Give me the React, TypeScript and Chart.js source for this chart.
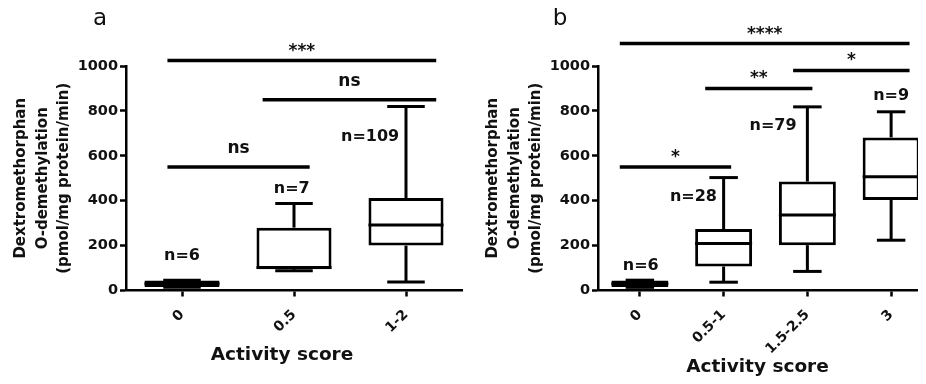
import React, { useEffect, useRef } from 'react';
import { Chart, registerables } from 'chart.js';

Chart.register(...registerables);

// ---------- Panel a data ----------
const categoriesA = ['0', '0.5', '1-2'];
const minA = [14, 88, 38];
const q1A = [16, 95, 200];
const medianA = [30, 103, 292];
const q3A = [44, 280, 412];
const maxA = [46, 388, 820];
const nA = [6, 7, 109];
const nXA = [0, 0.98, 1.68];
const nYA = [156, 454, 686];
const sigFromA = [-0.13, -0.13, 0.72];
const sigToA = [2.27, 1.14, 2.27];
const sigYA = [1024, 550, 850];
const sigTextA = ['***', 'ns', 'ns'];

// ---------- Panel b data ----------
const categoriesB = ['0', '0.5-1', '1.5-2.5', '3'];
const minB = [14, 37, 85, 224];
const q1B = [16, 107, 202, 403];
const medianB = [30, 209, 336, 507];
const q3B = [44, 274, 485, 682];
const maxB = [46, 503, 818, 796];
const nB = [6, 28, 79, 9];
const nXB = [0.01, 0.64, 1.59, 3.0];
const nYB = [111, 419, 732, 866];
const sigFromB = [-0.24, -0.24, 0.78, 1.83];
const sigToB = [3.22, 1.09, 2.06, 3.22];
const sigYB = [1100, 550, 900, 980];
const sigTextB = ['****', '*', '**', '*'];

const yMin = 0;
const yMax = 1000;
const yStep = 200;
const yTitle = ['Dextromethorphan', 'O-demethylation', '(pmol/mg protein/min)'];
const xTitle = 'Activity score';

const FONT = "'DejaVu Sans', sans-serif";

type Spec = {
  labels: string[];
  mins: number[];
  q1s: number[];
  medians: number[];
  q3s: number[];
  maxs: number[];
  ns: number[];
  nX: number[];
  nY: number[];
  sigFrom: number[];
  sigTo: number[];
  sigY: number[];
  sigText: string[];
  letter: string;
  letterPos: [number, number];
  titlePos: [number, number];
  width: number;
  padRight: number;
  barPct: number;
};

function makePlugin(spec: Spec) {
  return {
    id: 'boxExtras',
    afterDraw(chart: any) {
      const ctx: CanvasRenderingContext2D = chart.ctx;
      const xs = chart.scales.x;
      const ys = chart.scales.y;
      const meta = chart.getDatasetMeta(0);
      const line = (x1: number, y1: number, x2: number, y2: number) => {
        ctx.beginPath();
        ctx.moveTo(x1, y1);
        ctx.lineTo(x2, y2);
        ctx.stroke();
      };
      ctx.save();
      ctx.strokeStyle = '#000';
      ctx.lineCap = 'butt';
      ctx.lineWidth = 3;
      spec.labels.forEach((_, i) => {
        const cx = xs.getPixelForValue(i);
        const w = meta.data[i].width;
        const yMinP = ys.getPixelForValue(spec.mins[i]);
        const yQ1 = ys.getPixelForValue(spec.q1s[i]);
        const yMed = ys.getPixelForValue(spec.medians[i]);
        const yQ3 = ys.getPixelForValue(spec.q3s[i]);
        const yMaxP = ys.getPixelForValue(spec.maxs[i]);
        line(cx, yQ3, cx, yMaxP);
        line(cx, yQ1, cx, yMinP);
        line(cx - w / 4, yMaxP, cx + w / 4, yMaxP);
        line(cx - w / 4, yMinP, cx + w / 4, yMinP);
        line(cx - w / 2, yMed, cx + w / 2, yMed);
      });

      // significance bars
      ctx.lineWidth = 3.5;
      ctx.fillStyle = '#111';
      ctx.textAlign = 'center';
      ctx.textBaseline = 'alphabetic';
      spec.sigY.forEach((v, k) => {
        const x1 = xs.getPixelForValue(spec.sigFrom[k]);
        const x2 = xs.getPixelForValue(spec.sigTo[k]);
        const y = ys.getPixelForValue(v);
        line(x1, y, x2, y);
        const txt = spec.sigText[k];
        const isStar = txt.indexOf('*') >= 0;
        ctx.font = `bold 17px ${FONT}`;
        ctx.fillText(txt, (x1 + x2) / 2, y - (isStar ? 5 : 14));
      });

      // n labels
      ctx.font = `bold 16px ${FONT}`;
      ctx.textBaseline = 'middle';
      spec.ns.forEach((n, i) => {
        ctx.fillText('n=' + n, xs.getPixelForValue(spec.nX[i]), ys.getPixelForValue(spec.nY[i]));
      });

      // x axis title
      ctx.font = `bold 18.5px ${FONT}`;
      ctx.fillText(xTitle, spec.titlePos[0], spec.titlePos[1]);

      // panel letter
      ctx.font = `23px ${FONT}`;
      ctx.fillText(spec.letter, spec.letterPos[0], spec.letterPos[1]);
      ctx.restore();
    },
  };
}

function BoxPanel({ spec, left }: { spec: Spec; left: number }) {
  const ref = useRef<HTMLCanvasElement | null>(null);
  useEffect(() => {
    if (!ref.current) return;
    const chart = new Chart(ref.current, {
      type: 'bar',
      data: {
        labels: spec.labels,
        datasets: [
          {
            data: spec.q1s.map((q, i) => [q, spec.q3s[i]]) as any,
            backgroundColor: '#ffffff',
            borderColor: '#000000',
            borderWidth: 3,
            borderSkipped: false,
            barPercentage: spec.barPct,
            categoryPercentage: 1,
          },
        ],
      },
      options: {
        responsive: false,
        animation: false,
        devicePixelRatio: 1,
        layout: { padding: { top: 66, right: spec.padRight, left: 0, bottom: 0 } },
        plugins: { legend: { display: false }, tooltip: { enabled: false } },
        scales: {
          x: {
            offset: true,
            grid: {
              offset: false,
              drawOnChartArea: false,
              drawTicks: true,
              tickLength: 6,
              tickWidth: 2.5,
              tickColor: '#000',
            },
            border: { display: true, color: '#000', width: 2.5 },
            ticks: {
              minRotation: 45,
              maxRotation: 45,
              padding: 10,
              color: '#111',
              font: { family: FONT, size: 14, weight: 'bold' },
            },
            afterFit: (s: any) => {
              s.height = 384 - 290.5;
            },
          },
          y: {
            min: yMin,
            max: yMax,
            grid: {
              drawOnChartArea: false,
              drawTicks: true,
              tickLength: 6,
              tickWidth: 2.5,
              tickColor: '#000',
            },
            border: { display: true, color: '#000', width: 2.5 },
            ticks: {
              stepSize: yStep,
              padding: 2,
              color: '#111',
              font: { family: FONT, size: 14.5, weight: 'bold' },
              callback: (v: any) => String(v),
            },
            title: {
              display: true,
              text: yTitle,
              color: '#111',
              font: { family: FONT, size: 15, weight: 'bold', lineHeight: 1.45 },
              padding: { top: 10, bottom: 0 },
            },
            afterFit: (s: any) => {
              s.width = 126;
            },
          },
        },
      },
      plugins: [makePlugin(spec)],
    } as any);
    return () => chart.destroy();
  }, [spec]);
  return (
    <div style={{ position: 'absolute', left, top: 0, width: spec.width, height: 384 }}>
      <canvas ref={ref} width={spec.width} height={384} style={{ width: spec.width, height: 384, display: 'block' }} />
    </div>
  );
}

const specA: Spec = {
  labels: categoriesA,
  mins: minA,
  q1s: q1A,
  medians: medianA,
  q3s: q3A,
  maxs: maxA,
  ns: nA,
  nX: nXA,
  nY: nYA,
  sigFrom: sigFromA,
  sigTo: sigToA,
  sigY: sigYA,
  sigText: sigTextA,
  letter: 'a',
  letterPos: [100, 19],
  titlePos: [282, 355],
  width: 470,
  padRight: 8,
  barPct: 0.67,
};

const specB: Spec = {
  labels: categoriesB,
  mins: minB,
  q1s: q1B,
  medians: medianB,
  q3s: q3B,
  maxs: maxB,
  ns: nB,
  nX: nXB,
  nY: nYB,
  sigFrom: sigFromB,
  sigTo: sigToB,
  sigY: sigYB,
  sigText: sigTextB,
  letter: 'b',
  letterPos: [88, 19],
  titlePos: [285.5, 367],
  width: 461,
  padRight: 0,
  barPct: 0.68,
};

export default function App() {
  return (
    <div
      style={{
        position: 'relative',
        width: 926,
        height: 384,
        margin: -8,
        overflow: 'hidden',
        background: '#fff',
      }}
    >
      <BoxPanel spec={specA} left={0} />
      <BoxPanel spec={specB} left={472} />
    </div>
  );
}
